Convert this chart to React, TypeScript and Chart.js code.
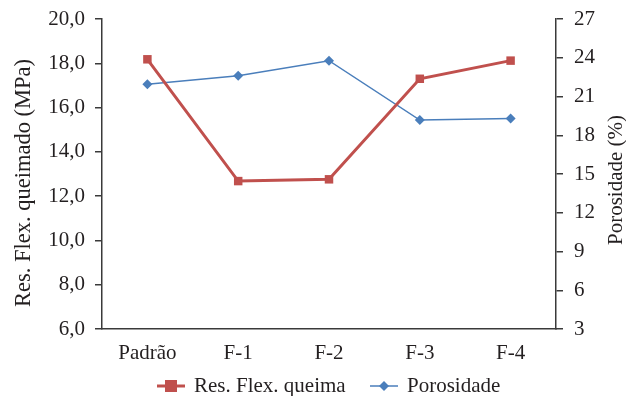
import React, { useEffect, useRef } from "react";
import { Chart, registerables } from "chart.js";

Chart.register(...registerables);

const categories = ["Padrão", "F-1", "F-2", "F-3", "F-4"];
const resFlex = [18.18, 12.68, 12.76, 17.3, 18.12];
const porosidade = [21.95, 22.61, 23.77, 19.18, 19.3];
const leftTitle = "Res. Flex. queimado (MPa)";
const rightTitle = "Porosidade (%)";
const seriesNames = ["Res. Flex. queima", "Porosidade"];

const RED = "#C0504D";
const BLUE = "#4A7EBB";
const INK = "#231F20";
const FONT = "'Liberation Serif', 'DejaVu Serif', serif";
const FS = 21;

const overlay = {
  id: "overlay",
  afterDraw(chart: any) {
    const ctx = chart.ctx;
    ctx.save();
    ctx.fillStyle = INK;
    ctx.textAlign = "center";
    ctx.textBaseline = "middle";
    // left title
    ctx.font = `22.5px ${FONT}`;
    ctx.save();
    ctx.translate(24, 183);
    ctx.rotate(-Math.PI / 2);
    ctx.fillText(leftTitle, 0, 0);
    ctx.restore();
    // right title
    ctx.font = `${FS}px ${FONT}`;
    ctx.save();
    ctx.translate(616, 180);
    ctx.rotate(-Math.PI / 2);
    ctx.fillText(rightTitle, 0, 0);
    ctx.restore();
    // legend
    const y = 386;
    const items = [
      { x: 157, color: RED, lw: 3, style: "rect", r: 6, label: seriesNames[0] },
      { x: 370, color: BLUE, lw: 1.5, style: "rectRot", r: 5, label: seriesNames[1] },
    ];
    ctx.textAlign = "left";
    for (const it of items) {
      ctx.strokeStyle = it.color;
      ctx.lineWidth = it.lw;
      ctx.beginPath();
      ctx.moveTo(it.x, y);
      ctx.lineTo(it.x + 28, y);
      ctx.stroke();
      ctx.fillStyle = it.color;
      const cx = it.x + 14;
      if (it.style === "rect") {
        ctx.fillRect(cx - it.r, y - it.r, it.r * 2, it.r * 2);
      } else {
        ctx.beginPath();
        ctx.moveTo(cx, y - it.r);
        ctx.lineTo(cx + it.r, y);
        ctx.lineTo(cx, y + it.r);
        ctx.lineTo(cx - it.r, y);
        ctx.closePath();
        ctx.fill();
      }
      ctx.fillStyle = INK;
      ctx.fillText(it.label, it.x + 37, y);
    }
    ctx.restore();
  },
};

export default function App() {
  const ref = useRef<HTMLCanvasElement>(null);
  useEffect(() => {
    document.body.style.margin = "0";
    const chart = new Chart(ref.current!, {
      type: "line",
      data: {
        labels: categories,
        datasets: [
          {
            label: seriesNames[0],
            data: resFlex,
            borderColor: RED,
            backgroundColor: RED,
            borderWidth: 3,
            pointStyle: "rect",
            pointRadius: 6,
            pointBorderWidth: 0,
            yAxisID: "y",
            tension: 0,
          },
          {
            label: seriesNames[1],
            data: porosidade,
            borderColor: BLUE,
            backgroundColor: BLUE,
            borderWidth: 1.5,
            pointStyle: "rectRot",
            pointRadius: 5,
            pointBorderWidth: 0,
            yAxisID: "y1",
            tension: 0,
          },
        ],
      },
      options: {
        animation: false,
        responsive: false,
        layout: { padding: { top: 19, left: 0, right: 0, bottom: 0 } },
        plugins: { legend: { display: false }, tooltip: { enabled: false } },
        scales: {
          x: {
            offset: true,
            grid: { display: false, drawTicks: false },
            border: { display: true, color: "#3a3a3a", width: 1.5 },
            ticks: { color: INK, font: { family: FONT, size: FS }, padding: 12, maxRotation: 0 },
            afterFit: (s: any) => { s.height = 67; s.paddingLeft = 0; s.paddingRight = 0; },
          },
          y: {
            position: "left",
            min: 6,
            max: 20,
            grid: { drawOnChartArea: false, tickLength: 7, color: "#3a3a3a", lineWidth: 1.5 },
            border: { display: true, color: "#3a3a3a", width: 1.5 },
            ticks: {
              stepSize: 2,
              color: INK,
              font: { family: FONT, size: FS },
              padding: 10,
              callback: (v: any) => Number(v).toFixed(1).replace(".", ","),
            },
            afterFit: (s: any) => { s.width = 102; s.paddingTop = 0; s.paddingBottom = 0; },
          },
          y1: {
            position: "right",
            min: 3,
            max: 27,
            grid: { drawOnChartArea: false, tickLength: 7, color: "#3a3a3a", lineWidth: 1.5 },
            border: { display: true, color: "#3a3a3a", width: 1.5 },
            ticks: { stepSize: 3, color: INK, font: { family: FONT, size: FS }, padding: 11 },
            afterFit: (s: any) => { s.width = 70; s.paddingTop = 0; s.paddingBottom = 0; },
          },
        },
      },
      plugins: [overlay],
    });
    return () => chart.destroy();
  }, []);
  return (
    <div style={{ width: 626, height: 396, background: "#fff" }}>
      <canvas ref={ref} width={626} height={396} />
    </div>
  );
}
